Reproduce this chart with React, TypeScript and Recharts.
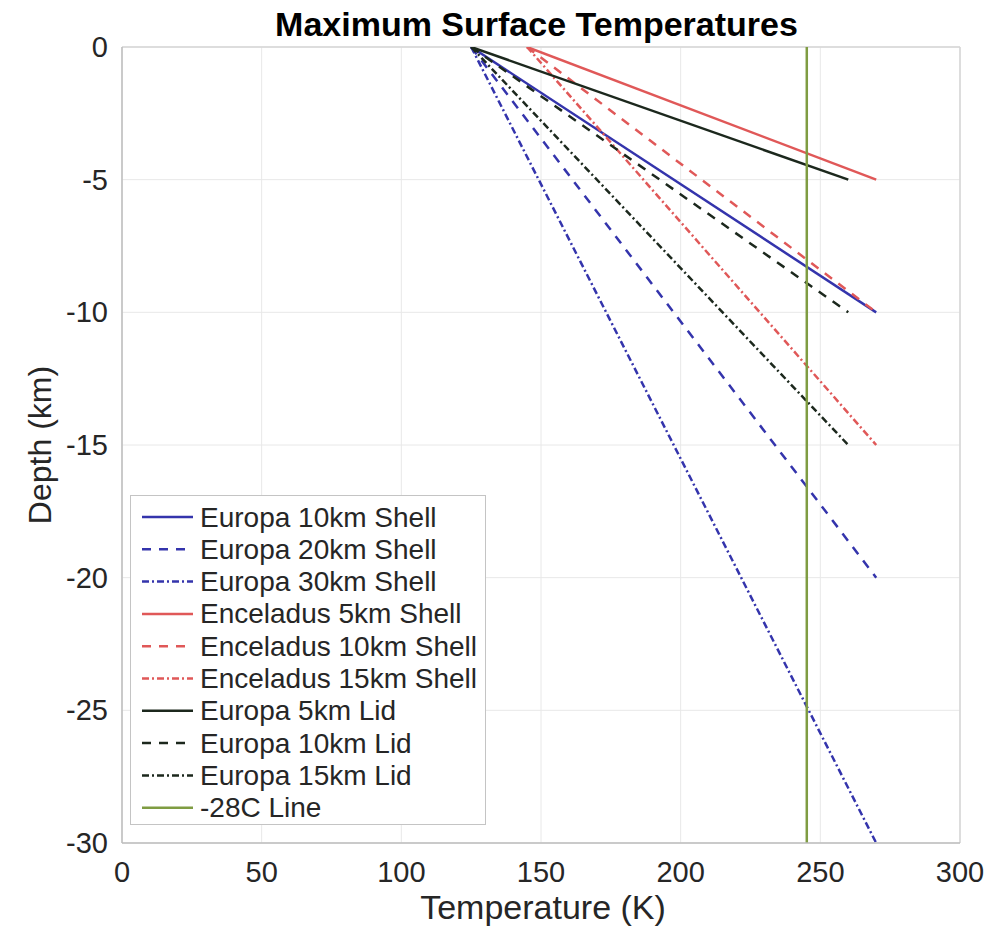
import React from 'react';
import { LineChart, Line, XAxis, YAxis, CartesianGrid, Legend, Label, ReferenceLine } from 'recharts';

const xTicks = [0, 50, 100, 150, 200, 250, 300];
const yTicks = [-30, -25, -20, -15, -10, -5, 0];

const europa10Shell = [{ x: 125, y: 0 }, { x: 270, y: -10 }];
const europa20Shell = [{ x: 125, y: 0 }, { x: 270, y: -20 }];
const europa30Shell = [{ x: 125, y: 0 }, { x: 270, y: -30 }];
const enceladus5Shell = [{ x: 145, y: 0 }, { x: 270, y: -5 }];
const enceladus10Shell = [{ x: 145, y: 0 }, { x: 270, y: -10 }];
const enceladus15Shell = [{ x: 145, y: 0 }, { x: 270, y: -15 }];
const europa5Lid = [{ x: 125, y: 0 }, { x: 260, y: -5 }];
const europa10Lid = [{ x: 125, y: 0 }, { x: 260, y: -10 }];
const europa15Lid = [{ x: 125, y: 0 }, { x: 260, y: -15 }];
const line28C = [{ x: 245.15, y: 0 }, { x: 245.15, y: -30 }];

const BLUE = '#3434ac';
const RED = '#e05858';
const BLACK = '#1c281d';
const GREEN = '#7f9c42';
const DASH = '9 8';
const DASHDOT = '7 3 2 3';

const series = [
  { name: 'Europa 10km Shell', data: europa10Shell, color: BLUE, dash: undefined as string | undefined },
  { name: 'Europa 20km Shell', data: europa20Shell, color: BLUE, dash: DASH },
  { name: 'Europa 30km Shell', data: europa30Shell, color: BLUE, dash: DASHDOT },
  { name: 'Enceladus 5km Shell', data: enceladus5Shell, color: RED, dash: undefined },
  { name: 'Enceladus 10km Shell', data: enceladus10Shell, color: RED, dash: DASH },
  { name: 'Enceladus 15km Shell', data: enceladus15Shell, color: RED, dash: DASHDOT },
  { name: 'Europa 5km Lid', data: europa5Lid, color: BLACK, dash: undefined },
  { name: 'Europa 10km Lid', data: europa10Lid, color: BLACK, dash: DASH },
  { name: 'Europa 15km Lid', data: europa15Lid, color: BLACK, dash: DASHDOT },
  { name: '-28C Line', data: line28C, color: GREEN, dash: undefined },
];

const FONT = '"Liberation Sans", Arial, Helvetica, sans-serif';
const TEXT = '#262626';

const XTick = (props: any) => {
  const { x, y, payload } = props;
  return (
    <text x={x} y={y + 29} textAnchor="middle" dominantBaseline="central" fontFamily={FONT} fontSize={29} fill={TEXT}>
      {payload.value}
    </text>
  );
};

const YTick = (props: any) => {
  const { x, y, payload } = props;
  return (
    <text x={x - 14} y={y} textAnchor="end" dominantBaseline="central" fontFamily={FONT} fontSize={29} fill={TEXT}>
      {payload.value}
    </text>
  );
};

const renderLegend = () => (
  <svg width={356} height={330} style={{ display: 'block' }}>
    <rect x={0.5} y={0.5} width={355} height={329} fill="#ffffff" stroke="#c4c4c4" strokeWidth={1} />
    {series.map((s, i) => {
      const cy = 22 + i * 32.3;
      return (
        <g key={s.name}>
          <line x1={12} x2={63} y1={cy} y2={cy} stroke={s.color} strokeWidth={2.5} strokeDasharray={s.dash} />
          <text x={70} y={cy} dominantBaseline="central" fontFamily={FONT} fontSize={28} fill={TEXT}>
            {s.name}
          </text>
        </g>
      );
    })}
  </svg>
);

export default function App() {
  return (
    <div style={{ position: 'relative', width: 1005, height: 929, background: '#ffffff' }}>
      <style>{'body{margin:0;background:#ffffff;}'}</style>
      <div
        style={{
          position: 'absolute',
          left: 0,
          top: 7,
          width: 1073,
          textAlign: 'center',
          fontFamily: FONT,
          fontWeight: 'bold',
          fontSize: 34,
          lineHeight: '34px',
          color: '#000000',
          zIndex: 2,
          whiteSpace: 'nowrap',
        }}
      >
        Maximum Surface Temperatures
      </div>
      <LineChart width={1005} height={929} margin={{ top: 47, right: 45, bottom: 0, left: 0 }}>
        <CartesianGrid stroke="#e8e8e8" strokeWidth={1} />
        <XAxis
          type="number"
          dataKey="x"
          domain={[0, 300]}
          ticks={xTicks}
          allowDataOverflow
          height={86}
          tickSize={0}
          tickMargin={0}
          tick={<XTick />}
          axisLine={{ stroke: '#bdbdbd', strokeWidth: 1.5 }}
          tickLine={false}
        >
          <Label
            content={(p: any) => {
              const vb = p.viewBox;
              return (
                <text x={vb.x + vb.width / 2 + 2} y={907} textAnchor="middle" dominantBaseline="central" fontFamily={FONT} fontSize={34} fill={TEXT}>
                  Temperature (K)
                </text>
              );
            }}
          />
        </XAxis>
        <YAxis
          type="number"
          dataKey="y"
          domain={[-30, 0]}
          ticks={yTicks}
          allowDataOverflow
          width={122}
          tickSize={0}
          tickMargin={0}
          tick={<YTick />}
          axisLine={{ stroke: '#bdbdbd', strokeWidth: 1.5 }}
          tickLine={false}
        >
          <Label
            content={(p: any) => {
              const vb = p.viewBox;
              const cx = 40;
              const cy = vb.y + vb.height / 2;
              return (
                <text x={cx} y={cy} transform={`rotate(-90, ${cx}, ${cy})`} textAnchor="middle" dominantBaseline="central" fontFamily={FONT} fontSize={32} fill={TEXT}>
                  Depth (km)
                </text>
              );
            }}
          />
        </YAxis>
        <ReferenceLine x={300} stroke="#d6d6d6" strokeWidth={1.5} />
        <ReferenceLine y={0} stroke="#d6d6d6" strokeWidth={1.5} />
        {series.map((s) => (
          <Line
            key={s.name}
            name={s.name}
            data={s.data}
            dataKey="y"
            type="linear"
            stroke={s.color}
            strokeWidth={2.5}
            strokeDasharray={s.dash}
            dot={false}
            activeDot={false}
            isAnimationActive={false}
          />
        ))}
        <Legend
          layout="vertical"
          align="center"
          verticalAlign="middle"
          content={renderLegend}
          wrapperStyle={{ position: 'absolute', left: 130, top: 495, width: 356, height: 330 }}
        />
      </LineChart>
    </div>
  );
}
